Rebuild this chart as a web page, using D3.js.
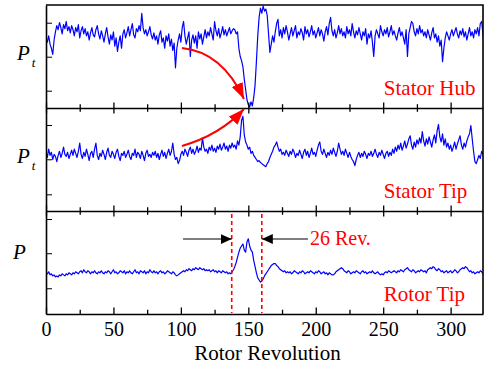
<!DOCTYPE html>
<html>
<head>
<meta charset="utf-8">
<script src="https://cdn.jsdelivr.net/npm/d3@7"></script>
<style>
  html, body { margin: 0; padding: 0; background: #fff; }
  svg { display: block; }
</style>
</head>
<body>
<div id="chart"></div>
<script>
// Pressure traces, one value per rotor revolution (index = revolution),
// in % of each panel's height.
const statorHub = [
  68, 64, 70, 62, 58, 52, 66, 74, 80, 76, 83, 78, 72, 81, 77, 84, 75, 79, 73, 80,
  76, 70, 78, 74, 81, 68, 75, 79, 72, 77, 70, 74, 66, 73, 78, 71, 69, 76, 80, 72,
  67, 75, 70, 64, 72, 78, 69, 62, 71, 66, 74, 60, 68, 55, 64, 70, 58, 72, 76, 68,
  73, 79, 70, 76, 82, 71, 68, 77, 74, 80, 75, 92, 78, 72, 76, 70, 74, 79, 71, 67,
  73, 66, 70, 62, 71, 75, 64, 68, 58, 70, 65, 72, 60, 67, 56, 63, 39, 58, 66, 72,
  64, 78, 84, 70, 62, 68, 74, 50, 66, 71, 63, 70, 58, 74, 67, 72, 62, 69, 76, 68,
  74, 70, 78, 72, 66, 84, 75, 70, 77, 68, 73, 79, 71, 76, 70, 74, 78, 72, 75, 77,
  76, 72, 74, 58, 50, 46, 40, 28, 18, 8, 3, 1, 6, 2, 10, 22, 45, 70, 88, 97,
  92, 99, 94, 96, 90, 72, 54, 62, 70, 64, 74, 82, 86, 70, 76, 68, 78, 72, 80, 74,
  66, 72, 78, 70, 75, 80, 68, 74, 71, 77, 73, 66, 79, 72, 76, 69, 74, 80, 71, 75,
  68, 73, 78, 70, 76, 72, 65, 74, 79, 71, 82, 88, 75, 70, 76, 68, 73, 80, 72, 77,
  70, 74, 68, 79, 72, 76, 70, 82, 74, 68, 75, 71, 78, 72, 66, 74, 70, 77, 62, 72,
  68, 75, 64, 50, 70, 76, 72, 68, 80, 74, 70, 76, 72, 78, 69, 74, 80, 71, 75, 70,
  66, 73, 78, 70, 74, 68, 62, 76, 50, 72, 78, 84, 82, 74, 70, 77, 72, 80, 73, 76,
  70, 74, 68, 76, 71, 66, 73, 78, 68, 72, 64, 70, 60, 66, 45, 58, 68, 74, 70, 66,
  72, 76, 70, 74, 78, 72, 68, 75, 71, 77, 69, 74, 66, 72, 78, 70, 74, 68, 76, 72,
  78, 70, 82, 84, 72, 58
];
const statorTip = [
  58, 52, 60, 54, 57, 50, 55, 53, 48, 54, 58, 52, 56, 62, 55, 53, 57, 51, 55, 59,
  54, 60, 56, 52, 58, 66, 55, 51, 57, 53, 60, 55, 49, 56, 58, 52, 60, 66, 54, 50,
  56, 53, 59, 55, 50, 57, 61, 54, 52, 58, 55, 51, 57, 60, 53, 49, 56, 54, 58, 52,
  55, 59, 53, 50, 56, 54, 60, 52, 57, 55, 51, 58, 54, 49, 56, 59, 53, 55, 52, 57,
  54, 58, 52, 56, 50, 55, 59, 53, 57, 51, 56, 60, 54, 58, 66, 55, 50, 52, 46, 49,
  55, 58, 54, 60, 57, 53, 59, 62, 56, 60, 55, 58, 63, 57, 61, 59, 71, 62, 58, 60,
  56, 62, 59, 64, 58, 61, 57, 63, 60, 65, 59, 62, 66, 60, 63, 58, 64, 61, 66, 62,
  64, 60, 68, 64, 72, 88, 92, 74, 67, 64, 60, 62, 56, 58, 54, 52, 50, 48, 49, 47,
  46, 45, 44, 43, 46, 48, 52, 55, 58, 62, 64, 67, 62, 58, 60, 55, 57, 54, 59, 56,
  53, 58, 55, 60, 57, 52, 56, 54, 59, 55, 51, 57, 60, 54, 58, 52, 56, 61, 55, 57,
  53, 59, 64, 67, 58, 55, 60, 56, 52, 57, 54, 59, 55, 61, 57, 53, 58, 66, 60, 55,
  58, 54, 60, 56, 52, 57, 53, 50, 48, 44, 50, 54, 57, 52, 56, 53, 58, 55, 51, 56,
  54, 58, 53, 56, 60, 55, 52, 57, 54, 59, 55, 51, 56, 58, 53, 57, 54, 60, 56, 62,
  58, 64, 60, 66, 59, 63, 68, 61, 65, 70, 73, 64, 60, 67, 62, 69, 65, 71, 66, 77,
  68, 63, 70, 65, 72, 67, 62, 69, 74, 66, 78, 84, 72, 67, 75, 64, 70, 62, 66, 60,
  64, 58, 62, 67, 60, 65, 69, 73, 64, 60, 66, 62, 68, 72, 75, 83, 70, 58, 48, 46,
  50, 54, 51, 58, 55, 57
];
const rotorTip = [
  40, 39, 41, 38, 39, 37, 38, 36, 37, 36, 38, 37, 39, 38, 37, 39, 38, 40, 39, 38,
  40, 39, 41, 40, 39, 41, 42, 40, 43, 41, 40, 42, 41, 39, 41, 40, 42, 40, 39, 41,
  40, 42, 40, 39, 41, 40, 42, 41, 39, 41, 43, 40, 41, 39, 40, 42, 41, 40, 42, 39,
  41, 40, 42, 40, 39, 41, 43, 40, 41, 39, 42, 41, 40, 42, 39, 41, 40, 43, 41, 40,
  42, 40, 41, 39, 41, 42, 40, 41, 39, 40, 42, 41, 40, 39, 41, 40, 38, 37, 38, 39,
  40, 41, 42, 41, 43, 42, 44, 43, 42, 44, 43, 45, 44, 43, 45, 44, 43, 44, 42, 43,
  42, 43, 41, 42, 43, 41, 42, 40, 42, 41, 40, 42, 41, 40, 41, 39, 40, 39, 41, 43,
  46, 50, 55, 60, 64, 66, 68, 62, 60, 70, 73, 66, 62, 60, 52, 46, 40, 35, 33, 31,
  32, 34, 37, 39, 41, 43, 45, 47, 48, 49, 49, 47, 46, 44, 43, 42, 41, 42, 40, 41,
  40, 41, 39, 40, 42, 41, 40, 39, 41, 40, 42, 41, 39, 40, 41, 40, 42, 41, 40, 39,
  41, 40, 42, 41, 39, 40, 41, 39, 40, 38, 40, 39, 38, 38, 39, 41, 42, 43, 44, 45,
  44, 42, 41, 40, 42, 41, 39, 40, 41, 40, 42, 41, 40, 39, 41, 42, 40, 41, 39, 40,
  41, 40, 42, 40, 39, 40, 41, 39, 38, 39, 38, 40, 41, 40, 42, 41, 40, 41, 42, 41,
  40, 42, 41, 43, 42, 41, 43, 44, 45, 43, 42, 41, 43, 42, 40, 41, 42, 41, 43, 42,
  41, 42, 40, 43, 44, 45, 44, 46, 45, 43, 42, 44, 43, 41, 42, 40, 41, 42, 40, 41,
  42, 40, 41, 43, 42, 40, 41, 43, 44, 45, 44, 46, 45, 43, 41, 42, 40, 41, 39, 40,
  41, 40, 42, 41, 39, 40
];

const panelNames = ['Stator Hub', 'Stator Tip', 'Rotor Tip'];
const panelSub = ['t', 't', ''];
const panelYTicks = [[16.8, 49.8, 82.8], [16.2, 50.2, 83.5], [25, 59, 92.2]];
const xMajor = [0, 50, 100, 150, 200, 250, 300];
const xMinor = [25, 75, 125, 175, 225, 275, 325];
const xDomain = [0, 324];

// Annotations (revolution, % of panel height)
const hubArrow = [[100.8, 58.3], [130.5, 54.4], [146.8, 8.7]];
const tipArrow = [[100.8, 63.1], [129, 73.8], [146.8, 99]];
const bounds = [137.7, 160];
const spanY = 72.8;
const spanArrows = [[101.6, 137.7], [194.2, 160]];
const spanText = { rev: 195.7, v: 67, label: '26 Rev.' };
const nameAt = { rev: 250.5, v: 12.5 };

const W = 485, H = 368;
const plotLeft = 46, plotRight = 483, plotTop = 5, panelH = 103;
const SERIF = '"Liberation Serif"';

const svg = d3.select('#chart').append('svg')
  .attr('width', W)
  .attr('height', H);

const defs = svg.append('defs');
defs.append('clipPath').attr('id', 'clip')
  .append('rect').attr('x', plotLeft).attr('y', plotTop)
  .attr('width', plotRight - plotLeft).attr('height', panelH * 3);
defs.append('marker')
  .attr('id', 'redHead')
  .attr('viewBox', '0 0 16 12')
  .attr('refX', 16).attr('refY', 6)
  .attr('markerWidth', 16).attr('markerHeight', 12)
  .attr('markerUnits', 'userSpaceOnUse')
  .attr('orient', 'auto')
  .append('path').attr('d', 'M0,0 L16,6 L0,12 Z').attr('fill', '#ff0000');
defs.append('marker')
  .attr('id', 'blackHead')
  .attr('viewBox', '0 0 11 10')
  .attr('refX', 11).attr('refY', 5)
  .attr('markerWidth', 11).attr('markerHeight', 10)
  .attr('markerUnits', 'userSpaceOnUse')
  .attr('orient', 'auto')
  .append('path').attr('d', 'M0,0 L11,5 L0,10 Z').attr('fill', '#000');

const x = d3.scaleLinear().domain(xDomain).range([plotLeft, plotRight]);
const series = [statorHub, statorTip, rotorTip];

const ys = series.map((_, i) =>
  d3.scaleLinear().domain([0, 100]).range([plotTop + panelH * (i + 1), plotTop + panelH * i]));

series.forEach((data, i) => {
  const y = ys[i];
  const g = svg.append('g');
  const y0 = plotTop + panelH * i, y1 = y0 + panelH;

  // trace
  g.append('path')
    .datum(data)
    .attr('clip-path', 'url(#clip)')
    .attr('fill', 'none')
    .attr('stroke', '#0000ff')
    .attr('stroke-width', 1.2)
    .attr('stroke-linejoin', 'round')
    .attr('d', d3.line().x((d, k) => x(k)).y(d => y(d)));

  // left axis, inward ticks, no labels
  g.append('g')
    .attr('transform', `translate(${plotLeft},0)`)
    .call(d3.axisLeft(y).tickValues(panelYTicks[i]).tickSize(-6).tickSizeOuter(0).tickFormat(''))
    .call(a => a.select('.domain').attr('stroke-width', 1.6));

  // bottom axis of every panel, ticks pointing up
  const last = i === series.length - 1;
  const bottom = g.append('g')
    .attr('transform', `translate(0,${y1})`)
    .call(d3.axisBottom(x).tickValues(xMajor).tickSize(last ? -6.5 : -5.5).tickSizeOuter(0)
      .tickFormat(last ? d3.format('d') : ''))
    .call(a => a.select('.domain').attr('stroke-width', 1.6));
  bottom.selectAll('.tick line').attr('stroke-width', 1.3);
  bottom.selectAll('.tick text')
    .attr('y', 8)
    .style('font-family', SERIF)
    .style('font-size', '20px')
    .attr('fill', '#000');
  g.append('g')
    .attr('transform', `translate(0,${y1})`)
    .call(d3.axisBottom(x).tickValues(xMinor.filter(v => v <= xDomain[1])).tickSize(last ? -4.3 : -3.8).tickFormat(''))
    .call(a => a.select('.domain').remove())
    .selectAll('.tick line').attr('stroke-width', 1.3);

  // top axis of lower panels, ticks pointing down
  if (i > 0) {
    g.append('g')
      .attr('transform', `translate(0,${y0})`)
      .call(d3.axisTop(x).tickValues(xMajor).tickSize(-5.5).tickSizeOuter(0).tickFormat(''))
      .call(a => a.select('.domain').remove())
      .selectAll('.tick line').attr('stroke-width', 1.3);
    g.append('g')
      .attr('transform', `translate(0,${y0})`)
      .call(d3.axisTop(x).tickValues(xMinor.filter(v => v <= xDomain[1])).tickSize(-3.8).tickFormat(''))
      .call(a => a.select('.domain').remove())
      .selectAll('.tick line').attr('stroke-width', 1.3);
  }

  // panel name
  g.append('text')
    .attr('x', x(nameAt.rev))
    .attr('y', y(nameAt.v))
    .style('font-family', SERIF)
    .style('font-size', '21px')
    .attr('fill', '#ff0000')
    .text(panelNames[i]);

  // y label P / P_t
  const lab = g.append('text')
    .attr('x', i === 2 ? 13 : 17)
    .attr('y', y0 + (i === 2 ? 48 : 55))
    .style('font-family', SERIF)
    .style('font-size', '21px')
    .style('font-style', 'italic')
    .text('P');
  if (panelSub[i]) {
    lab.append('tspan')
      .attr('dx', 2)
      .attr('dy', 7)
      .style('font-size', '13px')
      .text(panelSub[i]);
  }
});

// frame: top and right edges
svg.append('path')
  .attr('d', `M${plotLeft},${plotTop}H${plotRight}V${plotTop + panelH * 3}`)
  .attr('fill', 'none')
  .attr('stroke', '#000')
  .attr('stroke-width', 1.6);

// curved red arrows
const curve = (pts, y) =>
  `M${x(pts[0][0])},${y(pts[0][1])}Q${x(pts[1][0])},${y(pts[1][1])} ${x(pts[2][0])},${y(pts[2][1])}`;
[[hubArrow, ys[0]], [tipArrow, ys[1]]].forEach(([pts, y]) => {
  svg.append('path')
    .attr('d', curve(pts, y))
    .attr('fill', 'none')
    .attr('stroke', '#ff0000')
    .attr('stroke-width', 2)
    .attr('marker-end', 'url(#redHead)');
});

// rotor tip span: dashed bounds, arrows and label
const y3 = ys[2];
svg.append('g').selectAll('line')
  .data(bounds)
  .join('line')
  .attr('x1', d => x(d)).attr('x2', d => x(d))
  .attr('y1', y3(97)).attr('y2', y3(1))
  .attr('stroke', '#ff0000')
  .attr('stroke-width', 1.6)
  .attr('stroke-dasharray', '4,3');

svg.append('g').selectAll('line')
  .data(spanArrows)
  .join('line')
  .attr('x1', d => x(d[0])).attr('x2', d => x(d[1]))
  .attr('y1', y3(spanY)).attr('y2', y3(spanY))
  .attr('stroke', '#000')
  .attr('stroke-width', 1.2)
  .attr('marker-end', 'url(#blackHead)');

svg.append('text')
  .attr('x', x(spanText.rev))
  .attr('y', y3(spanText.v))
  .style('font-family', SERIF)
  .style('font-size', '20px')
  .attr('fill', '#ff0000')
  .text(spanText.label);

// x axis title
svg.append('text')
  .attr('x', (plotLeft + plotRight) / 2 + 3)
  .attr('y', 360)
  .attr('text-anchor', 'middle')
  .style('font-family', SERIF)
  .style('font-size', '21px')
  .text('Rotor Revolution');
</script>
</body>
</html>
